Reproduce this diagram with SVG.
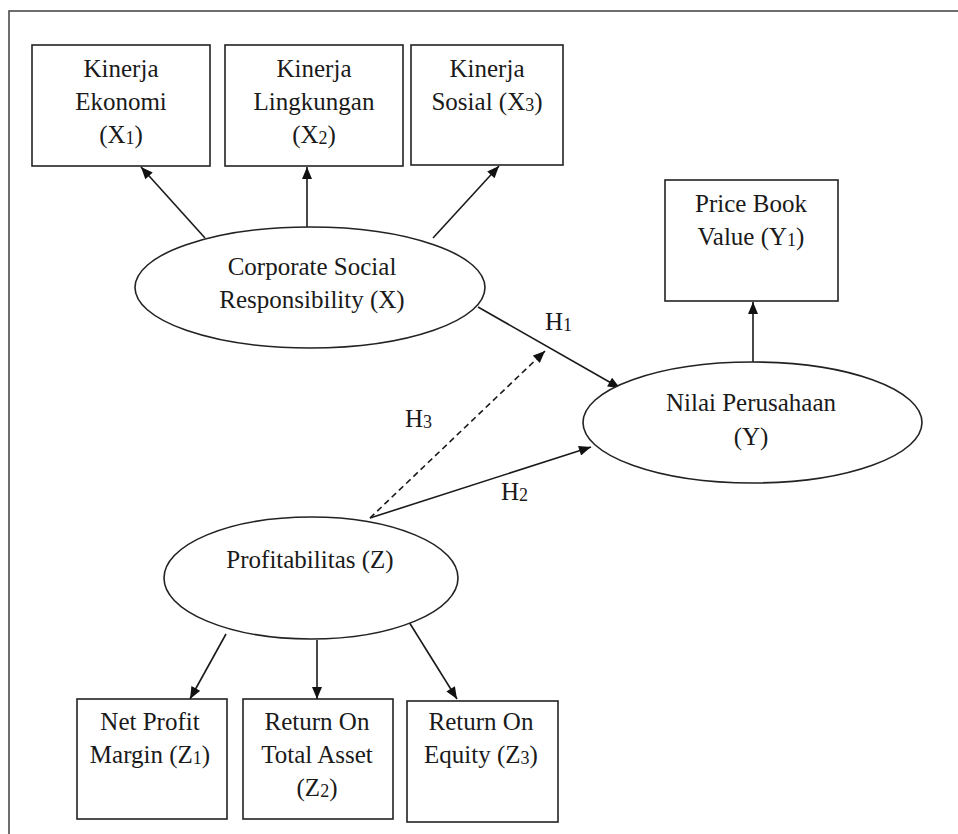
<svg xmlns="http://www.w3.org/2000/svg" width="958" height="834" viewBox="0 0 958 834">
<style>
  .bg { fill: #ffffff; }
  .frame { fill: none; stroke: #4a4a4a; stroke-width: 1.6; }
  .box { fill: #ffffff; stroke: #222222; stroke-width: 1.6; }
  .ell { fill: #ffffff; stroke: #222222; stroke-width: 1.6; }
  text { font-family: 'Liberation Serif', 'DejaVu Serif', serif; font-size: 25px; fill: #1a1a1a; }
  .t { text-anchor: middle; }
  .sub { font-size: 18px; }
  .conn { fill: none; stroke: #1a1a1a; stroke-width: 1.6; }
  .dash { stroke-dasharray: 6 4; }
</style>
<defs>
  <marker id="arr" viewBox="0 0 12 10" refX="12" refY="5" markerWidth="13" markerHeight="10" markerUnits="userSpaceOnUse" orient="auto">
    <path d="M0,0 L12,5 L0,10 z" fill="#111111"/>
  </marker>
</defs>
<rect class="bg" x="0" y="0" width="958" height="834"/>
<rect class="frame" x="9" y="11" width="965" height="835"/>

<g id="connectors">
  <line class="conn" x1="205" y1="238" x2="141" y2="167" marker-end="url(#arr)"/>
  <line class="conn" x1="307" y1="227" x2="307" y2="167" marker-end="url(#arr)"/>
  <line class="conn" x1="433" y1="238" x2="499" y2="166" marker-end="url(#arr)"/>
  <line class="conn" x1="478" y1="307" x2="620" y2="388" marker-end="url(#arr)"/>
  <line class="conn dash" x1="370" y1="518" x2="545" y2="351" marker-end="url(#arr)"/>
  <line class="conn" x1="370" y1="518" x2="591" y2="447" marker-end="url(#arr)"/>
  <line class="conn" x1="753" y1="362" x2="753" y2="302" marker-end="url(#arr)"/>
  <line class="conn" x1="226" y1="634" x2="190" y2="699" marker-end="url(#arr)"/>
  <line class="conn" x1="317" y1="640" x2="317" y2="699" marker-end="url(#arr)"/>
  <line class="conn" x1="409" y1="622" x2="457" y2="699" marker-end="url(#arr)"/>
  <text x="545" y="330">H<tspan class="sub" dy="1">1</tspan></text>
  <text x="405" y="427">H<tspan class="sub" dy="1">3</tspan></text>
  <text x="501" y="500">H<tspan class="sub" dy="1">2</tspan></text>
</g>

<g id="x1">
  <rect class="box" x="32" y="45" width="178" height="121"/>
  <text class="t" x="121" y="77">Kinerja</text>
  <text class="t" x="121" y="110">Ekonomi</text>
  <text class="t" x="121" y="143">(X<tspan class="sub" dy="1">1</tspan><tspan dy="-1">)</tspan></text>
</g>
<g id="x2">
  <rect class="box" x="225" y="45" width="178" height="121"/>
  <text class="t" x="314" y="77">Kinerja</text>
  <text class="t" x="314" y="110">Lingkungan</text>
  <text class="t" x="314" y="143">(X<tspan class="sub" dy="1">2</tspan><tspan dy="-1">)</tspan></text>
</g>
<g id="x3">
  <rect class="box" x="411" y="45" width="152" height="120"/>
  <text class="t" x="487" y="77">Kinerja</text>
  <text class="t" x="487" y="110">Sosial (X<tspan class="sub" dy="1">3</tspan><tspan dy="-1">)</tspan></text>
</g>
<g id="y1">
  <rect class="box" x="665" y="180" width="173" height="121"/>
  <text class="t" x="751" y="212">Price Book</text>
  <text class="t" x="751" y="245">Value (Y<tspan class="sub" dy="1">1</tspan><tspan dy="-1">)</tspan></text>
</g>
<g id="csr">
  <ellipse class="ell" cx="310" cy="287.5" rx="175" ry="60.5"/>
  <text class="t" x="312" y="275">Corporate Social</text>
  <text class="t" x="312" y="308">Responsibility (X)</text>
</g>
<g id="nilai">
  <ellipse class="ell" cx="752.5" cy="422.5" rx="169.5" ry="60.5"/>
  <text class="t" x="751" y="411">Nilai Perusahaan</text>
  <text class="t" x="751" y="445">(Y)</text>
</g>
<g id="profit">
  <ellipse class="ell" cx="311" cy="578" rx="147" ry="61"/>
  <text class="t" x="310" y="568">Profitabilitas (Z)</text>
</g>
<g id="z1">
  <rect class="box" x="77" y="699" width="150" height="120"/>
  <text class="t" x="150" y="730">Net Profit</text>
  <text class="t" x="150" y="763">Margin (Z<tspan class="sub" dy="1">1</tspan><tspan dy="-1">)</tspan></text>
</g>
<g id="z2">
  <rect class="box" x="243" y="699" width="150" height="120"/>
  <text class="t" x="317" y="730">Return On</text>
  <text class="t" x="317" y="763">Total Asset</text>
  <text class="t" x="317" y="796">(Z<tspan class="sub" dy="1">2</tspan><tspan dy="-1">)</tspan></text>
</g>
<g id="z3">
  <rect class="box" x="407" y="701" width="151" height="121"/>
  <text class="t" x="481" y="730">Return On</text>
  <text class="t" x="481" y="763">Equity (Z<tspan class="sub" dy="1">3</tspan><tspan dy="-1">)</tspan></text>
</g>
</svg>
